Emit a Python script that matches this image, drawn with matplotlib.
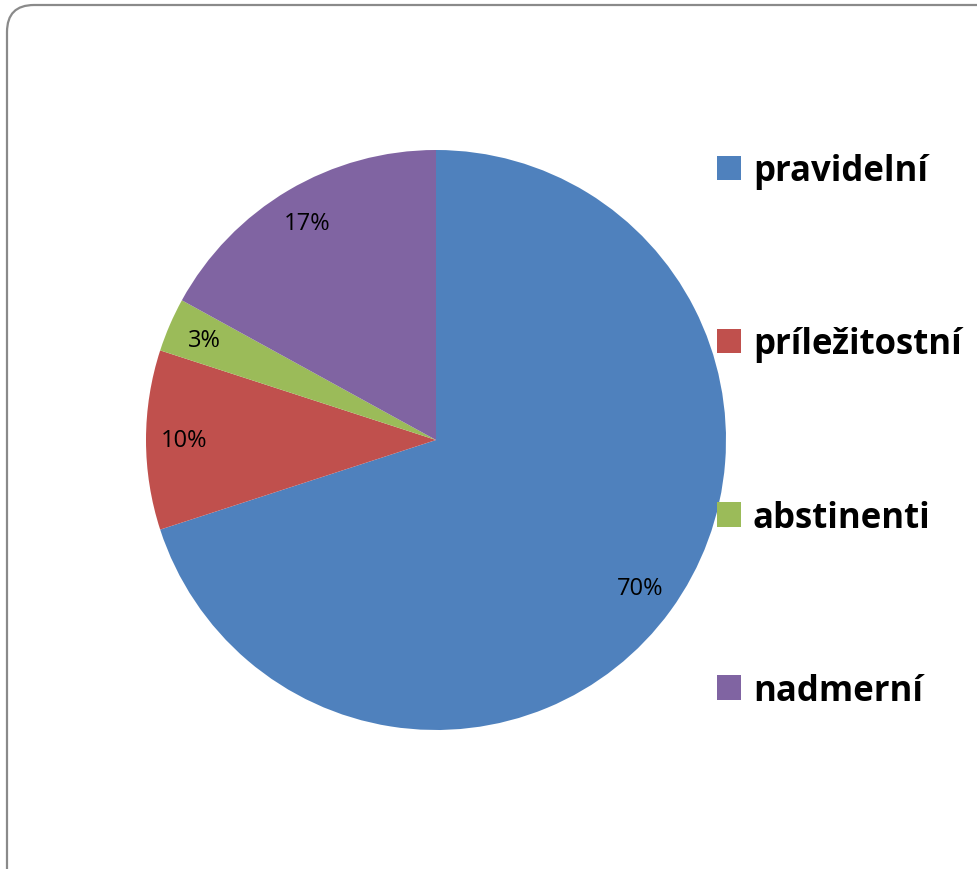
import matplotlib.pyplot as plt
from matplotlib.patches import FancyBboxPatch, Patch

# data
categories = ["pravidelní", "príležitostní", "abstinenti", "nadmerní"]
shares = [70, 10, 3, 17]
colors = ["#4F81BD", "#C0504D", "#9BBB59", "#8064A2"]

W, H = 978, 870
fig = plt.figure(figsize=(W / 100, H / 100), dpi=100)

# background frame with rounded corners (runs off the right and bottom edge)
bg = fig.add_axes([0, 0, 1, 1])
bg.set_xlim(0, W)
bg.set_ylim(H, 0)
bg.axis("off")
bg.add_patch(FancyBboxPatch((7, 6), 1000, 900,
                            boxstyle="round,pad=0,rounding_size=27",
                            facecolor="white", edgecolor="#8a8a8a", lw=1.6))

# pie, centre (436, 441) px, radius 290 px
cx, cy, r = 436, 441, 290
ax = fig.add_axes([(cx - r) / W, (H - cy - r) / H, 2 * r / W, 2 * r / H])
wedges, texts, autotexts = ax.pie(
    shares, colors=colors, startangle=90, counterclock=False,
    autopct="%d%%", pctdistance=0.87,
    textprops={"fontsize": 17, "family": "Open Sans", "color": "black"})
ax.set_xlim(-1, 1)
ax.set_ylim(-1, 1)
ax.set_aspect("equal")

handles = [Patch(facecolor=c, edgecolor="none") for c in colors]
fig.legend(handles, categories, loc="center left",
           bbox_to_anchor=(717 / W, (H - 432) / H),
           frameon=False, borderpad=0, borderaxespad=0,
           handlelength=0.7, handleheight=0.7, handletextpad=0.33,
           labelspacing=3.95,
           prop={"family": "Open Sans", "weight": "bold", "size": 25})

fig.savefig("out.png", dpi=100)
